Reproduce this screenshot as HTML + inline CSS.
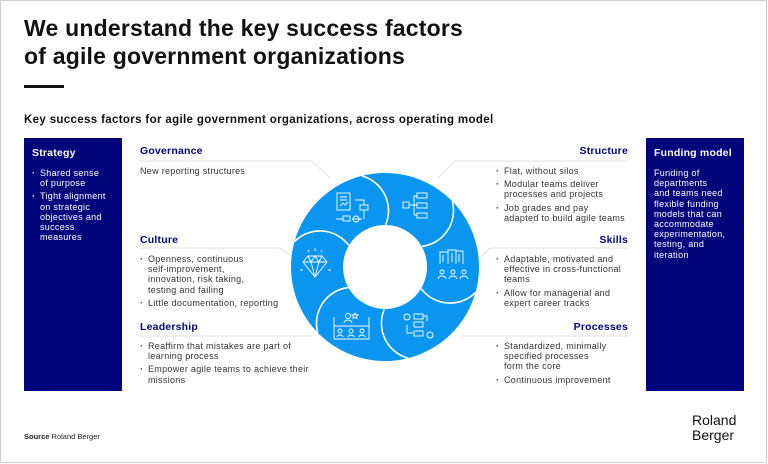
<!DOCTYPE html>
<html><head><meta charset="utf-8"><style>
*{margin:0;padding:0;box-sizing:border-box}
body{width:768px;height:464px;position:relative;background:#fff;font-family:"Liberation Sans",sans-serif;overflow:hidden}
.frame{position:absolute;left:0;top:0;width:767px;height:463px;border:1px solid #cfcfcf}
.a{position:absolute}
h1{position:absolute;left:24px;top:14px;font-size:23px;line-height:28px;font-weight:bold;color:#111;letter-spacing:0.2px}
.bar{position:absolute;left:24px;top:85px;width:40px;height:3px;background:#111}
.sub{position:absolute;left:24px;top:114px;font-size:11.5px;font-weight:bold;color:#111;letter-spacing:0.35px}
.box{position:absolute;top:138px;width:98px;height:253px;background:#03057a;color:#fff;padding:9px 8px}
.box h3{font-size:10.5px;font-weight:bold;margin-bottom:9px;letter-spacing:0.2px}
.box p,.box li{font-size:9px;line-height:10.2px;letter-spacing:0.3px;white-space:nowrap}
ul{list-style:none}
li{position:relative;padding-left:8px;margin-bottom:3px;white-space:nowrap}
li:before{content:"·";position:absolute;left:0;top:0;font-weight:bold}
.hd{position:absolute;font-size:10.5px;font-weight:bold;color:#03057a;letter-spacing:0.2px}
.tx{position:absolute;font-size:9px;line-height:10.2px;color:#333;letter-spacing:0.3px;white-space:nowrap}
.r{text-align:right}
</style></head><body>
<div class="frame"></div>
<h1>We understand the key success factors<br>of agile government organizations</h1>
<div class="bar"></div>
<div class="sub">Key success factors for agile government organizations, across operating model</div>

<div class="box" style="left:24px"><h3>Strategy</h3><ul><li>Shared sense<br>of purpose</li><li>Tight alignment<br>on strategic<br>objectives and<br>success<br>measures</li></ul></div>
<div class="box" style="left:646px"><h3>Funding model</h3><p>Funding of<br>departments<br>and teams need<br>flexible funding<br>models that can<br>accommodate<br>experimentation,<br>testing, and<br>iteration</p></div>

<svg class="a" style="left:0;top:0" width="768" height="464">
<g stroke="#d6d6d6" stroke-width="0.8" fill="none">
<path d="M140 161 H312 L330 178"/>
<path d="M140 248 H280 L292 256"/>
<path d="M140 336 H312"/>
<path d="M628 161 H455 L438 178"/>
<path d="M628 248 H490 L482 256"/>
<path d="M628 336 H462"/>
</g>
<circle cx="385" cy="267" r="94" fill="#0a96f0"/>
<circle cx="385" cy="267" r="42" fill="#fff"/>
<g stroke="#fff" stroke-width="1.6" fill="none">
<path d="M361.8 175.9 A36 36 0 0 1 385.6 224.8"/>
<path d="M452.3 201.4 A36 36 0 0 1 421.9 246.4"/>
<path d="M475.5 292.5 A36 36 0 0 1 421.2 288.7"/>
<path d="M408.2 358.1 A36 36 0 0 1 384.3 309.2"/>
<path d="M317.7 332.6 A36 36 0 0 1 348.1 287.6"/>
<path d="M294.5 241.5 A36 36 0 0 1 348.8 245.3"/>
</g>
<g stroke="#fff" stroke-width="0.9" fill="none">
<rect x="337" y="193" width="13" height="17"/><path d="M340 197h7M340 200h7M340 206l3-3 2 2 3-3"/>
<rect x="360" y="205" width="8" height="5"/><path d="M355 200h9v5M336 219h7M352 219h10M364 219v-9"/><rect x="343" y="216" width="7" height="5"/><circle cx="356" cy="219" r="3"/>
<rect x="403" y="202" width="6" height="6"/><path d="M409 205h5M414 196v19M414 196h3M414 205h3M414 215h3"/><rect x="417" y="193" width="10" height="5"/><rect x="417" y="203" width="10" height="5"/><rect x="417" y="213" width="10" height="5"/>
<path d="M440 264v-12h8v12M448 264v-14h8v14M456 264v-13h7v13M443 255v7M452 253v9M459 254v8"/>
<circle cx="442" cy="272" r="2"/><circle cx="453" cy="272" r="2"/><circle cx="464" cy="272" r="2"/><path d="M438 279a4 3 0 0 1 8 0M449 279a4 3 0 0 1 8 0M460 279a4 3 0 0 1 8 0"/>
<circle cx="407" cy="317" r="3"/><rect x="414" y="314" width="9" height="5"/><rect x="414" y="322" width="9" height="5"/><rect x="414" y="331" width="9" height="5"/><path d="M423 316h4v5M407 325v8h6"/><circle cx="430" cy="335" r="3"/>
<circle cx="348" cy="316" r="2.5"/><path d="M344 323a4 3 0 0 1 8 0M355 313l1 2 2 0-1.5 1.5.5 2-2-1-2 1 .5-2-1.5-1.5 2 0z"/><path d="M334 317v22h35v-22M334 326h35"/><circle cx="340" cy="331" r="2"/><circle cx="351" cy="331" r="2"/><circle cx="362" cy="331" r="2"/><path d="M337 337a3 2 0 0 1 6 0M348 337a3 2 0 0 1 6 0M359 337a3 2 0 0 1 6 0"/>
<path d="M303 262l5-6h14l5 6-12 15z M303 262h24 M308 256l3 6 4 15 4-15 3-6 M311 262l4-6 4 6"/><path d="M315 251v-3M309 252l-1-2M321 252l1-2M300 270h3M328 270h3"/>
</g>
</svg>

<div class="hd" style="left:140px;top:145px">Governance</div>
<div class="tx" style="left:140px;top:166px">New reporting structures</div>
<div class="hd" style="left:140px;top:234px">Culture</div>
<div class="tx" style="left:140px;top:254px"><ul><li>Openness, continuous<br>self-improvement,<br>innovation, risk taking,<br>testing and failing</li><li>Little documentation, reporting</li></ul></div>
<div class="hd" style="left:140px;top:321px">Leadership</div>
<div class="tx" style="left:140px;top:341px"><ul><li>Reaffirm that mistakes are part of<br>learning process</li><li>Empower agile teams to achieve their<br>missions</li></ul></div>

<div class="hd r" style="left:528px;width:100px;top:145px">Structure</div>
<div class="tx" style="left:496px;top:166px"><ul><li>Flat, without silos</li><li>Modular teams deliver<br>processes and projects</li><li>Job grades and pay<br>adapted to build agile teams</li></ul></div>
<div class="hd r" style="left:528px;width:100px;top:234px">Skills</div>
<div class="tx" style="left:496px;top:254px"><ul><li>Adaptable, motivated and<br>effective in cross-functional<br>teams</li><li>Allow for managerial and<br>expert career tracks</li></ul></div>
<div class="hd r" style="left:528px;width:100px;top:321px">Processes</div>
<div class="tx" style="left:496px;top:341px"><ul><li>Standardized, minimally<br>specified processes<br>form the core</li><li>Continuous improvement</li></ul></div>

<div class="a" style="left:24px;top:432px;font-size:7.5px;color:#222"><b>Source</b> Roland Berger</div>
<div class="a" style="left:692px;top:413px;font-size:14px;line-height:15px;color:#111">Roland<br>Berger</div>
</body></html>
